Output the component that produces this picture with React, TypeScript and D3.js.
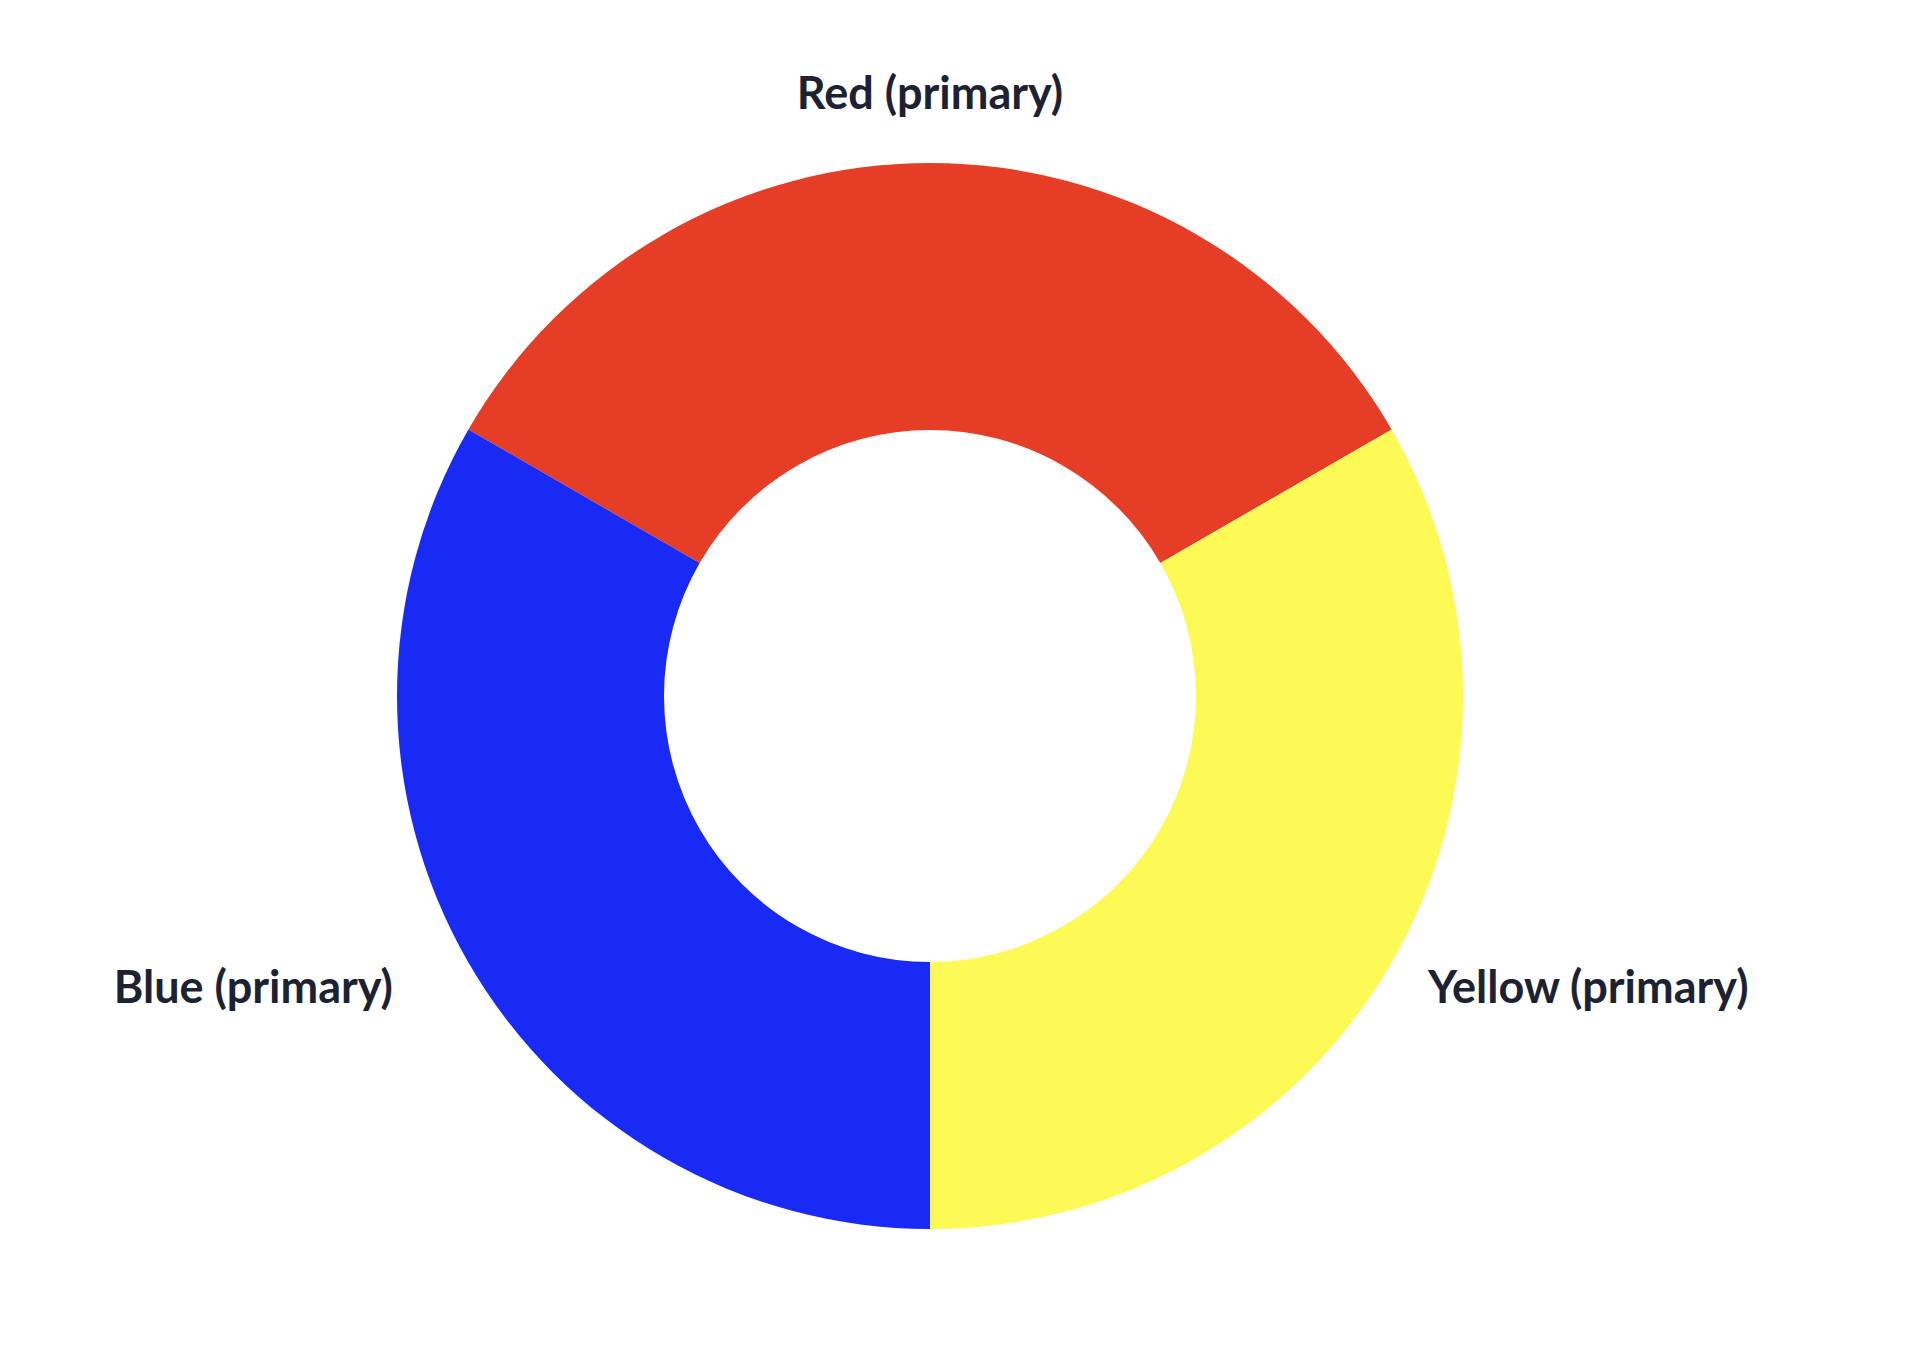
import React from "react";
import * as d3 from "d3";

const labels = ["Red (primary)", "Yellow (primary)", "Blue (primary)"];
const values = [1, 1, 1];
const colors = ["#E63E26", "#FEFA55", "#182AF4"];

export default function App() {
  const width = 1926;
  const height = 1362;
  const cx = 930;
  const cy = 696;
  const outerRadius = 533;
  const innerRadius = 266;
  const labelRadius = 582;

  const pie = d3
    .pie<number>()
    .sort(null)
    .startAngle(-Math.PI / 3)
    .endAngle((5 * Math.PI) / 3);
  const arcs = pie(values);

  const arc = d3
    .arc<d3.PieArcDatum<number>>()
    .innerRadius(innerRadius)
    .outerRadius(outerRadius);

  return (
    <svg
      width={width}
      height={height}
      style={{ position: "absolute", left: 0, top: 0, display: "block", background: "#fff" }}
    >
      <g transform={`translate(${cx}, ${cy})`}>
        {arcs.map((d, i) => (
          <path key={labels[i]} d={arc(d) || ""} fill={colors[i]} />
        ))}
        {arcs.map((d, i) => {
          const mid = (d.startAngle + d.endAngle) / 2;
          const sx = Math.sin(mid);
          const anchor = Math.abs(sx) < 0.1 ? "middle" : sx > 0 ? "start" : "end";
          // small nudges so labels sit where the original puts them
          const x = sx * labelRadius + (anchor === "end" ? -33 : anchor === "start" ? -6 : 0);
          const y = -Math.cos(mid) * labelRadius + (anchor === "middle" ? -21 : 0);
          return (
            <text
              key={`label-${labels[i]}`}
              x={x}
              y={y}
              dy="0.36em"
              textAnchor={anchor}
              style={{
                fontFamily: "Lato, sans-serif",
                fontWeight: "bold",
                fontSize: "45px",
                fill: "#1D2232",
              }}
            >
              {labels[i]}
            </text>
          );
        })}
      </g>
    </svg>
  );
}
